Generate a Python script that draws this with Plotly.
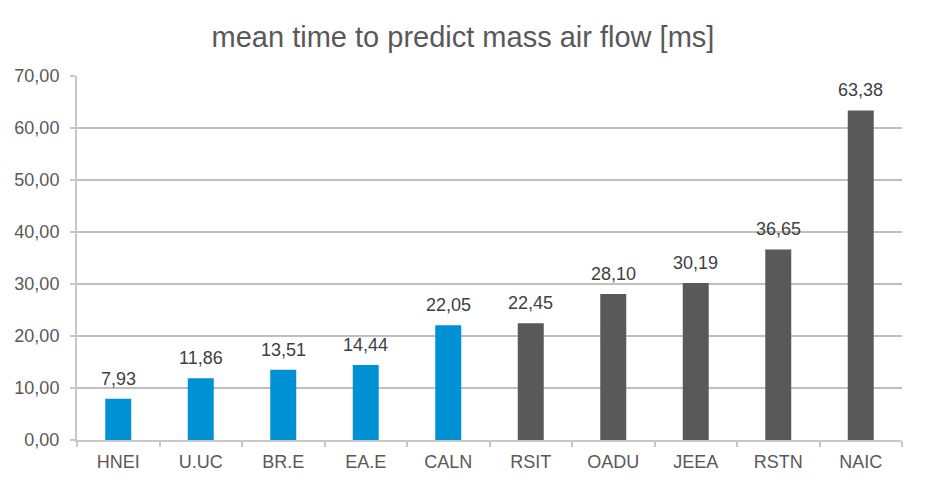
import plotly.graph_objects as go

categories = ["HNEI", "U.UC", "BR.E", "EA.E", "CALN", "RSIT", "OADU", "JEEA", "RSTN", "NAIC"]
values = [7.93, 11.86, 13.51, 14.44, 22.05, 22.45, 28.10, 30.19, 36.65, 63.38]
groups = ["a", "a", "a", "a", "a", "b", "b", "b", "b", "b"]
y_ticks = [0, 10, 20, 30, 40, 50, 60, 70]

color_map = {"a": "#0091D5", "b": "#595959"}
colors = [color_map[g] for g in groups]
txt = [f"{v:.2f}".replace(".", ",") for v in values]

fig = go.Figure(go.Bar(
    x=categories, y=values, marker_color=colors, marker_line_width=0,
    hoverinfo="x+y",
))

for c, v, t in zip(categories, values, txt):
    fig.add_annotation(
        x=c, y=v, text=t, showarrow=False, yanchor="bottom", yshift=8,
        font=dict(family="Liberation Sans, Arial", size=18, color="#404040"),
    )

fig.update_layout(
    width=926, height=485,
    margin=dict(l=77, r=24, t=76, b=45),
    paper_bgcolor="white", plot_bgcolor="white",
    separators=",.",
    bargap=0.685,
    showlegend=False,
    font=dict(family="Liberation Sans, Arial", color="#595959", size=18),
    title=dict(text="mean time to predict mass air flow [ms]", x=0.5, xanchor="center",
               y=1 - 37/485, yanchor="middle",
               font=dict(family="Liberation Sans, Arial", size=29, color="#595959")),
)
fig.update_xaxes(
    showline=True, linecolor="#C8C8C8", linewidth=2,
    ticks="outside", tickson="boundaries", ticklen=5, tickcolor="#C8C8C8", tickwidth=2,
    ticklabelstandoff=4,
    tickfont=dict(size=18, color="#595959"),
)
fig.update_yaxes(
    range=[0, 70], tickvals=y_ticks, tickformat=".2f",
    showline=True, linecolor="#C8C8C8", linewidth=2,
    ticks="outside", ticklen=5, tickcolor="#C8C8C8", tickwidth=2,
    showgrid=True, gridcolor="#BFBFBF", gridwidth=2, zeroline=False,
    ticklabelstandoff=7,
    tickfont=dict(size=18, color="#595959"),
)

fig.write_html("out.html")
